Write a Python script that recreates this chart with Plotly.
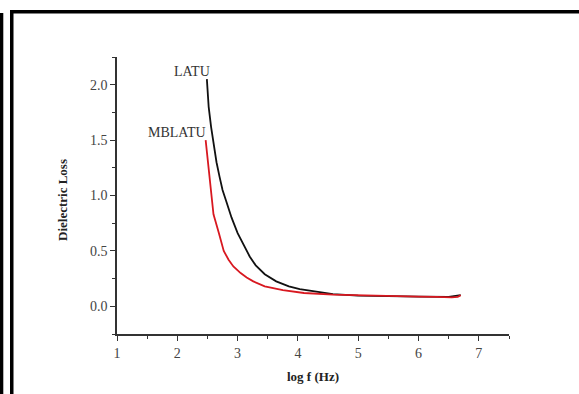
import plotly.graph_objects as go

# Data
latu_x = [2.49, 2.52, 2.56, 2.60, 2.65, 2.70, 2.75, 2.81, 2.90, 3.00, 3.10, 3.20, 3.30,
          3.45, 3.64, 3.85, 4.03, 4.30, 4.58, 5.0, 5.5, 6.0, 6.5, 6.7]
latu_y = [2.05, 1.80, 1.62, 1.48, 1.30, 1.17, 1.05, 0.95, 0.80, 0.66, 0.55, 0.45, 0.37,
          0.29, 0.225, 0.18, 0.155, 0.13, 0.11, 0.097, 0.09, 0.088, 0.085, 0.10]

mblatu_x = [2.47, 2.535, 2.60, 2.69, 2.77, 2.85, 2.93, 3.05, 3.15, 3.26, 3.45, 3.75,
            4.1, 4.58, 5.0, 5.5, 6.0, 6.3, 6.55, 6.65, 6.7]
mblatu_y = [1.50, 1.16, 0.83, 0.66, 0.50, 0.42, 0.36, 0.30, 0.26, 0.225, 0.18, 0.145,
            0.12, 0.105, 0.098, 0.092, 0.088, 0.085, 0.08, 0.085, 0.10]

series_labels = ["LATU", "MBLATU"]

W, H = 579, 394
L, R, T, B = 117, 70, 57, 60
pw, ph = W - L - R, H - T - B

def px(x):
    return (x - L) / pw

def py(y):
    return (H - B - y) / ph

fig = go.Figure()
fig.add_trace(go.Scatter(x=latu_x, y=latu_y, mode="lines", name=series_labels[0],
                         line=dict(color="#111111", width=1.8)))
fig.add_trace(go.Scatter(x=mblatu_x, y=mblatu_y, mode="lines", name=series_labels[1],
                         line=dict(color="#d81820", width=1.8)))

font_serif = "Liberation Serif, Times New Roman, serif"

fig.update_layout(
    width=W, height=H,
    margin=dict(l=L, r=R, t=T, b=B, pad=0),
    paper_bgcolor="white", plot_bgcolor="white",
    showlegend=False,
    font=dict(family=font_serif, size=14, color="#333333"),
    xaxis=dict(range=[1, 7.5], tick0=1, dtick=1, ticks="outside", ticklen=5,
               tickwidth=1.2, tickcolor="#333333", showgrid=False, zeroline=False,
               showline=True, linecolor="#333333", linewidth=1.5,
               tickfont=dict(family=font_serif, size=14, color="#444444"),
               minor=dict(dtick=0.5, tick0=1, ticks="outside", ticklen=3,
                          tickwidth=1.2, tickcolor="#333333", showgrid=False)),
    yaxis=dict(range=[-0.25, 2.25], tick0=0, dtick=0.5, tickformat=".1f",
               ticks="outside", ticklen=5, tickwidth=1.2, tickcolor="#333333",
               showgrid=False, zeroline=False, showline=True,
               linecolor="#333333", linewidth=1.5,
               tickfont=dict(family=font_serif, size=14, color="#444444"),
               minor=dict(dtick=0.25, tick0=0, ticks="outside", ticklen=3,
                          tickwidth=1.2, tickcolor="#333333", showgrid=False)),
)

def label(xpix, ypix, text, bold=False, angle=0, color="#333333", size=14):
    fig.add_annotation(x=px(xpix), y=py(ypix), xref="paper", yref="paper",
                       xanchor="center", yanchor="middle",
                       text=f"<b>{text}</b>" if bold else text, showarrow=False,
                       textangle=angle,
                       font=dict(family=font_serif, size=size, color=color))

# Axis titles
label(313, 376, "log f (Hz)", bold=True, color="#222222", size=13)
label(62, 200, "Dielectric Loss", bold=True, angle=-90, color="#222222", size=13)

# Series labels
label(192, 71, series_labels[0])
label(177, 132, series_labels[1])

# Frame (image border)
shapes = [
    dict(type="rect", xref="paper", yref="paper", x0=px(0), x1=px(3.3),
         y0=py(394), y1=py(13), fillcolor="black", line=dict(width=0), layer="above"),
    dict(type="rect", xref="paper", yref="paper", x0=px(10), x1=px(13.5),
         y0=py(394), y1=py(10), fillcolor="black", line=dict(width=0), layer="above"),
    dict(type="rect", xref="paper", yref="paper", x0=px(10), x1=px(579),
         y0=py(13.5), y1=py(10), fillcolor="black", line=dict(width=0), layer="above"),
]
fig.update_layout(shapes=shapes)

fig.write_html("out.html", config={"displayModeBar": False},
               post_script="document.body.style.margin='0';document.body.style.overflow='hidden';")
